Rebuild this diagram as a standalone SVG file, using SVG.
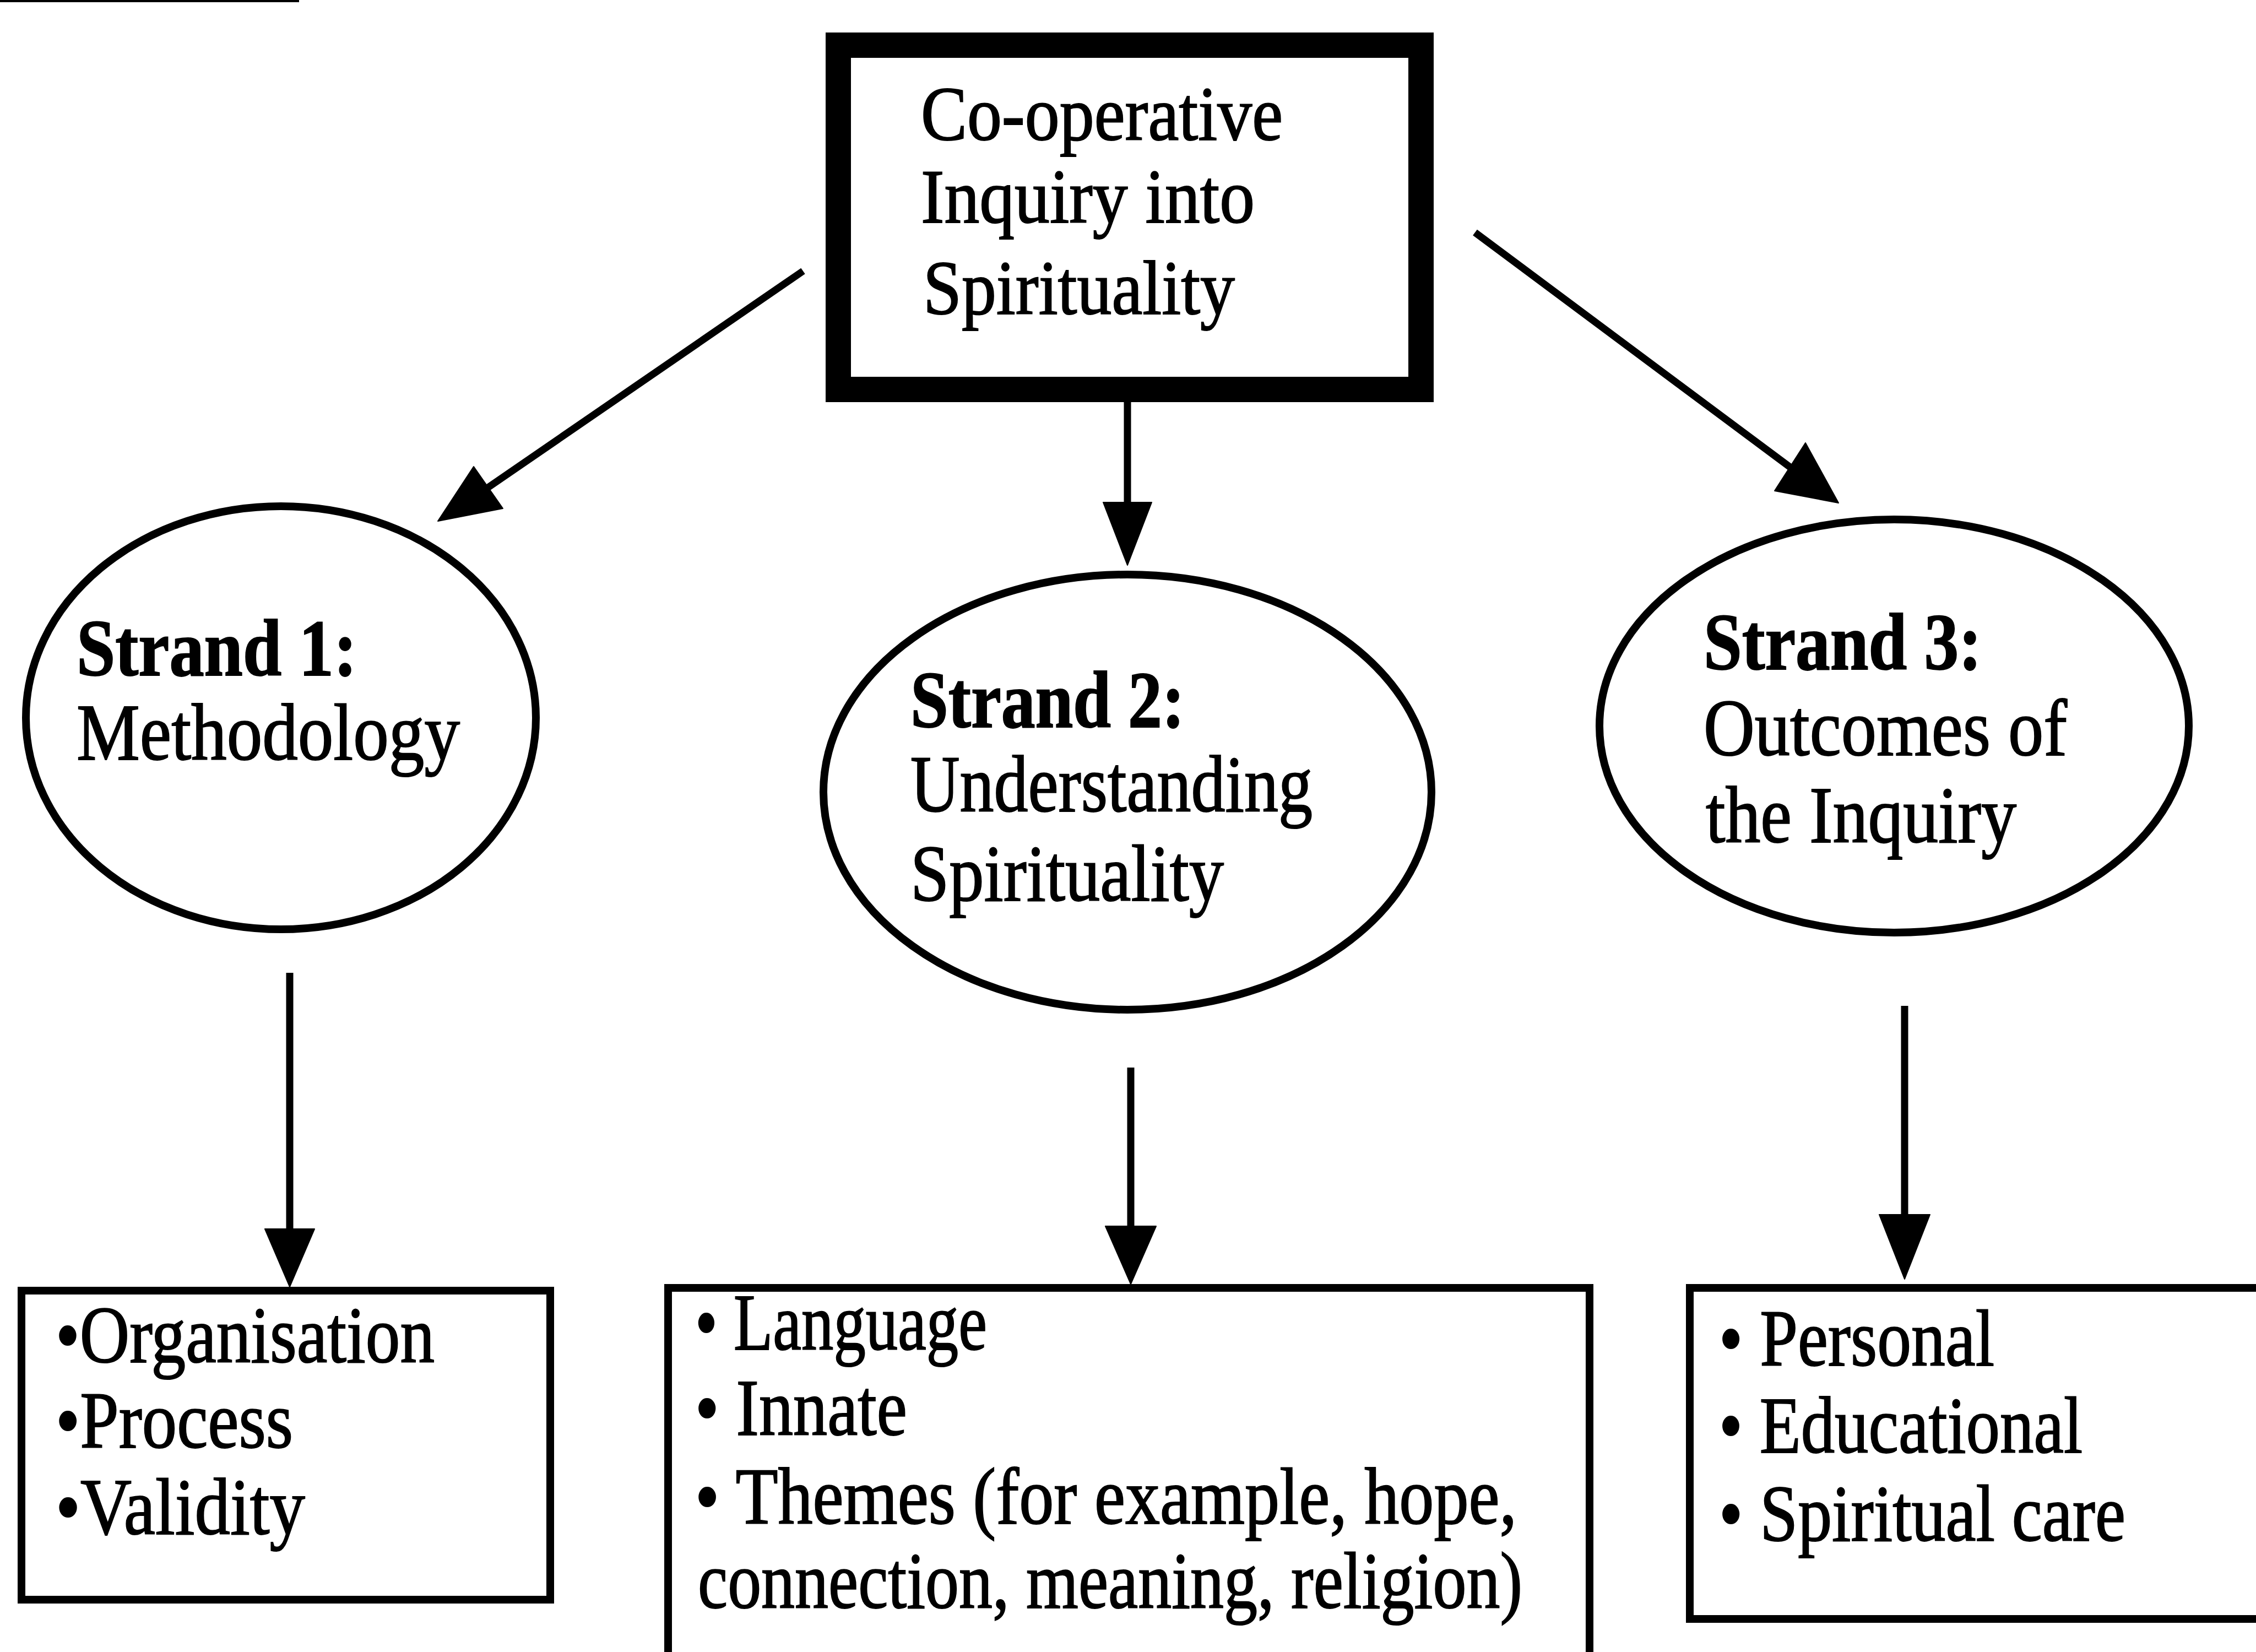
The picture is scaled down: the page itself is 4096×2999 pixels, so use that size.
<svg xmlns="http://www.w3.org/2000/svg" width="4096" height="2999" viewBox="0 0 4096 2999">
  <style>
    .box { fill: #fff; stroke: #000; stroke-width: 14; }
    .main { fill: #fff; stroke: #000; stroke-width: 46; }
    .oval { fill: #fff; stroke: #000; stroke-width: 14; }
    .t { font-family: "Liberation Serif", "Times New Roman", serif; font-size: 146px; fill: #000; stroke: #000; stroke-width: 2; }
    .big { font-size: 140px; }
    .b { font-weight: bold; }
    .wire { stroke: #000; stroke-width: 13; fill: none; }
    .head { fill: #000; stroke: #000; stroke-width: 2; stroke-linejoin: round; }
  </style>

  <rect width="4096" height="2999" fill="#fff"/>
  <!-- rule at the top edge -->
  <rect x="0" y="0" width="543" height="4" fill="#000"/>

  <g id="connectors">
    <!-- root to strand 1 -->
    <line class="wire" x1="1458" y1="492" x2="886" y2="885"/>
    <polygon class="head" points="795,946 860,847 913,923"/>
    <!-- root to strand 2 -->
    <line class="wire" x1="2047" y1="729" x2="2047" y2="914"/>
    <polygon class="head" points="2003,912 2091,912 2047,1026"/>
    <!-- root to strand 3 -->
    <line class="wire" x1="2678" y1="422" x2="3250" y2="848"/>
    <polygon class="head" points="3338,913 3278,804 3222,891"/>
    <!-- strands to their lists -->
    <line class="wire" x1="526" y1="1766" x2="526" y2="2233"/>
    <polygon class="head" points="481,2231 571,2231 526,2336"/>
    <line class="wire" x1="2053" y1="1938" x2="2053" y2="2228"/>
    <polygon class="head" points="2007,2226 2099,2226 2053,2331"/>
    <line class="wire" x1="3458" y1="1826" x2="3458" y2="2207"/>
    <polygon class="head" points="3412,2205 3504,2205 3458,2322"/>
  </g>

  <g id="root">
    <rect class="main" x="1522" y="82" width="1058" height="625"/>
    <text class="t big" x="1672" y="254" textLength="657" lengthAdjust="spacingAndGlyphs">Co-operative</text>
    <text class="t big" x="1672" y="404" textLength="606" lengthAdjust="spacingAndGlyphs">Inquiry into</text>
    <text class="t big" x="1676" y="570" textLength="566" lengthAdjust="spacingAndGlyphs">Spirituality</text>
  </g>

  <g id="strand1">
    <ellipse class="oval" cx="510" cy="1303" rx="463" ry="384"/>
    <text class="t b" x="139" y="1226" textLength="509" lengthAdjust="spacingAndGlyphs">Strand 1:</text>
    <text class="t" x="139" y="1379" textLength="696" lengthAdjust="spacingAndGlyphs">Methodology</text>
  </g>

  <g id="strand2">
    <ellipse class="oval" cx="2047" cy="1438" rx="552" ry="395"/>
    <text class="t b" x="1653" y="1320" textLength="498" lengthAdjust="spacingAndGlyphs">Strand 2:</text>
    <text class="t" x="1653" y="1473" textLength="730" lengthAdjust="spacingAndGlyphs">Understanding</text>
    <text class="t" x="1653" y="1635" textLength="569" lengthAdjust="spacingAndGlyphs">Spirituality</text>
  </g>

  <g id="strand3">
    <ellipse class="oval" cx="3439" cy="1318" rx="535" ry="375"/>
    <text class="t b" x="3093" y="1215" textLength="505" lengthAdjust="spacingAndGlyphs">Strand 3:</text>
    <text class="t" x="3093" y="1371" textLength="660" lengthAdjust="spacingAndGlyphs">Outcomes of</text>
    <text class="t" x="3097" y="1529" textLength="564" lengthAdjust="spacingAndGlyphs">the Inquiry</text>
  </g>

  <g id="methodology-list">
    <rect class="box" x="39" y="2343" width="960" height="561"/>
    <text class="t" x="101" y="2473" textLength="688" lengthAdjust="spacingAndGlyphs">•Organisation</text>
    <text class="t" x="101" y="2628" textLength="431" lengthAdjust="spacingAndGlyphs">•Process</text>
    <text class="t" x="101" y="2785" textLength="453" lengthAdjust="spacingAndGlyphs">•Validity</text>
  </g>

  <g id="understanding-list">
    <rect class="box" x="1213" y="2338" width="1673" height="700"/>
    <text class="t" x="1262" y="2450" textLength="530" lengthAdjust="spacingAndGlyphs">• Language</text>
    <text class="t" x="1262" y="2605" textLength="385" lengthAdjust="spacingAndGlyphs">• Innate</text>
    <text class="t" x="1262" y="2766" textLength="1492" lengthAdjust="spacingAndGlyphs">• Themes (for example, hope,</text>
    <text class="t" x="1267" y="2919" textLength="1497" lengthAdjust="spacingAndGlyphs">connection, meaning, religion)</text>
  </g>

  <g id="outcomes-list">
    <rect class="box" x="3068" y="2338" width="1100" height="601"/>
    <text class="t" x="3121" y="2479" textLength="500" lengthAdjust="spacingAndGlyphs">• Personal</text>
    <text class="t" x="3121" y="2637" textLength="660" lengthAdjust="spacingAndGlyphs">• Educational</text>
    <text class="t" x="3121" y="2797" textLength="738" lengthAdjust="spacingAndGlyphs">• Spiritual care</text>
  </g>
</svg>
